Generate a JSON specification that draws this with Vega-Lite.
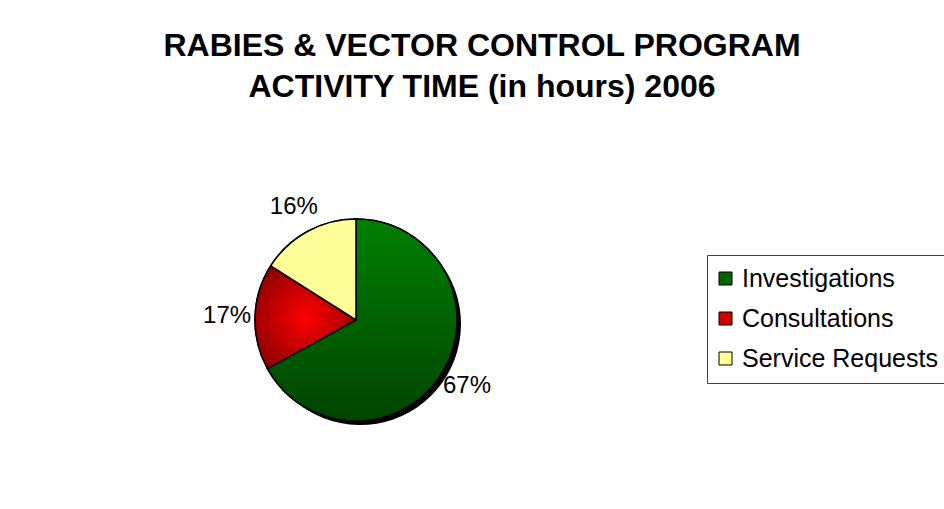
{
  "$schema": "https://vega.github.io/schema/vega-lite/v6.json",
  "width": 202,
  "height": 202,
  "autosize": {"type": "none"},
  "padding": {"left": 255, "top": 219, "right": 487, "bottom": 88},
  "background": "white",
  "config": {
    "view": {"stroke": null},
    "font": "Liberation Sans"
  },
  "title": {
    "text": ["RABIES & VECTOR CONTROL PROGRAM", "ACTIVITY TIME (in hours) 2006"],
    "anchor": "middle",
    "frame": "group",
    "dx": 126,
    "fontSize": 32,
    "fontWeight": "bold",
    "font": "Liberation Sans",
    "color": "#000000",
    "lineHeight": 41,
    "offset": 91
  },
  "data": {
    "values": [
      {"category": "Investigations", "share": 0.67},
      {"category": "Consultations", "share": 0.17},
      {"category": "Service Requests", "share": 0.16}
    ]
  },
  "layer": [
    {
      "mark": {"type": "arc", "fill": "#000000", "xOffset": 4, "yOffset": 4},
      "encoding": {
        "theta": {"field": "share", "type": "quantitative", "stack": true},
        "order": {"field": "share", "sort": "descending"}
      }
    },
    {
      "mark": {"type": "arc", "stroke": "#000000", "strokeWidth": 1.5},
      "encoding": {
        "theta": {"field": "share", "type": "quantitative", "stack": true},
        "order": {"field": "share", "sort": "descending"},
        "color": {
          "field": "category",
          "type": "nominal",
          "sort": null,
          "scale": {"range": ["#006400", "#d00000", "#ffff99"]},
          "legend": {
            "title": null,
            "orient": "none",
            "legendX": 452,
            "legendY": 36,
            "padding": 11,
            "strokeColor": "#404040",
            "fillColor": "#ffffff",
            "symbolType": "square",
            "symbolSize": 169,
            "symbolOffset": -5,
            "symbolStrokeColor": "#000000",
            "symbolStrokeWidth": 1,
            "labelFontSize": 25,
            "labelFont": "Liberation Sans",
            "labelColor": "#000000",
            "labelOffset": 4,
            "labelLimit": 400,
            "rowPadding": 14
          }
        }
      }
    },
    {
      "mark": {"type": "arc", "stroke": "#000000", "strokeWidth": 1.5},
      "encoding": {
        "theta": {"field": "share", "type": "quantitative", "stack": true},
        "order": {"field": "share", "sort": "descending"},
        "fill": {
          "condition": [
            {"test": "datum.category === 'Investigations'", "value": {"gradient": "linear", "x1": 0, "y1": 0, "x2": 0, "y2": 1, "stops": [{"offset": 0, "color": "#008000"}, {"offset": 1, "color": "#004400"}]}},
            {"test": "datum.category === 'Consultations'", "value": {"gradient": "radial", "x1": 0.5, "y1": 0.5, "r1": 0, "x2": 0.5, "y2": 0.5, "r2": 0.6, "stops": [{"offset": 0, "color": "#ff0000"}, {"offset": 1, "color": "#8a0000"}]}}
          ],
          "value": "#ffff99"
        }
      }
    },
    {
      "mark": {"type": "text", "radius": 129, "fontSize": 24, "font": "Liberation Sans", "color": "#000000"},
      "encoding": {
        "theta": {"field": "share", "type": "quantitative", "stack": true},
        "order": {"field": "share", "sort": "descending"},
        "text": {"field": "share", "type": "quantitative", "format": ".0%"}
      }
    }
  ]
}
